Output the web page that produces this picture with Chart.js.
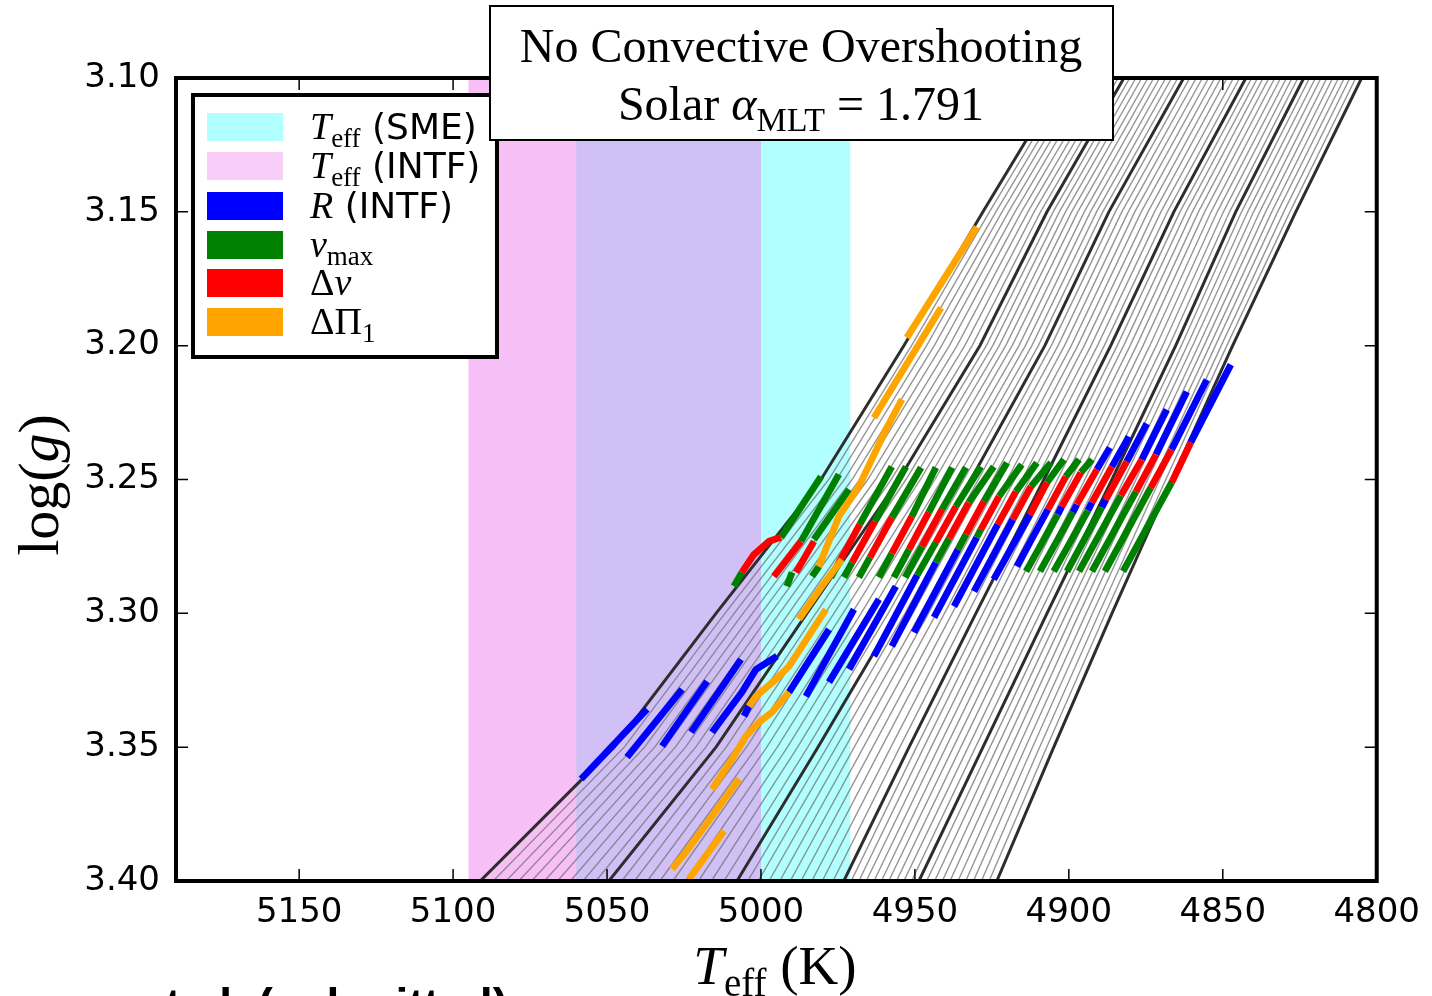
<!DOCTYPE html>
<html>
<head>
<meta charset="utf-8">
<script src="https://cdn.jsdelivr.net/npm/chart.js@4.4.0/dist/chart.umd.min.js"></script>
<style>
  html, body { margin: 0; padding: 0; background: #fff; }
  #wrap { width: 1432px; height: 996px; position: relative; overflow: hidden; }
</style>
</head>
<body>
<div id="wrap"><canvas id="chart" width="1432" height="996"></canvas></div>
<script>
// axis ticks
const xTicks = [5150, 5100, 5050, 5000, 4950, 4900, 4850, 4800];
const yTicks = [3.10, 3.15, 3.20, 3.25, 3.30, 3.35, 3.40];

// Teff bands
const smeRange = [5060, 4971];
const intfRange = [5095, 5000];

// evolutionary tracks: Teff of each track at these log(g) levels
const loggLevels = [3.10, 3.15, 3.20, 3.25, 3.30, 3.35, 3.40];
const teffAt310 = [4901.6,4899.7,4897.7,4895.8,4893.8,4891.9,4889.9,4887.9,4886.0,4884.0,4882.1,4880.2,4878.2,4876.3,4874.3,4872.4,4870.5,4868.5,4866.6,4864.6,4862.7,4860.7,4858.6,4856.6,4854.6,4852.6,4850.6,4848.6,4846.5,4844.5,4842.5,4840.6,4838.7,4836.9,4835.0,4833.1,4831.2,4829.3,4827.5,4825.6,4823.7,4821.8,4819.9,4818.1,4816.2,4814.3,4812.4,4810.5,4808.7,4806.8,4804.9];
const teffAt315 = [4927.9,4925.8,4923.7,4921.7,4919.6,4917.5,4915.4,4913.3,4911.3,4909.2,4907.1,4905.1,4903.1,4901.1,4899.1,4897.1,4895.0,4893.0,4891.0,4889.0,4887.0,4884.9,4882.8,4880.7,4878.6,4876.5,4874.3,4872.2,4870.1,4868.0,4865.9,4863.9,4861.9,4859.9,4857.9,4855.9,4853.8,4851.8,4849.8,4847.8,4845.8,4843.9,4841.9,4840.0,4838.0,4836.1,4834.1,4832.2,4830.2,4828.2,4826.3];
const teffAt320 = [4953.6,4951.1,4948.7,4946.2,4943.7,4941.3,4938.8,4936.3,4933.8,4931.4,4928.9,4926.8,4924.7,4922.6,4920.5,4918.4,4916.2,4914.1,4912.0,4909.9,4907.8,4905.7,4903.5,4901.4,4899.2,4897.1,4895.0,4892.8,4890.7,4888.5,4886.4,4884.3,4882.2,4880.1,4878.0,4875.9,4873.7,4871.6,4869.5,4867.4,4865.3,4863.5,4861.6,4859.8,4857.9,4856.1,4854.2,4852.4,4850.5,4848.7,4846.8];
const teffAt325 = [4980.5,4978.0,4975.4,4972.9,4970.4,4967.9,4965.3,4962.8,4960.3,4957.7,4955.2,4952.9,4950.5,4948.2,4945.8,4943.5,4941.2,4938.8,4936.5,4934.1,4931.8,4929.4,4927.1,4924.7,4922.3,4920.0,4917.6,4915.2,4912.8,4910.5,4908.1,4905.9,4903.7,4901.5,4899.3,4897.1,4894.8,4892.6,4890.4,4888.2,4886.0,4884.1,4882.1,4880.2,4878.2,4876.3,4874.4,4872.4,4870.5,4868.5,4866.6];
const teffAt330 = [5014.6,5011.7,5008.7,5005.8,5002.8,4999.9,4996.9,4994.0,4991.0,4988.1,4985.1,4982.2,4979.2,4976.3,4973.4,4970.5,4967.5,4964.6,4961.7,4958.7,4955.8,4953.2,4950.7,4948.1,4945.6,4943.0,4940.4,4937.9,4935.3,4932.8,4930.2,4927.9,4925.6,4923.3,4921.0,4918.7,4916.3,4914.0,4911.7,4909.4,4907.1,4905.0,4902.9,4900.8,4898.7,4896.6,4894.4,4892.3,4890.2,4888.1,4886.0];
const teffAt335 = [5047.7,5044.4,5041.1,5037.8,5034.5,5031.2,5027.8,5024.5,5021.2,5017.9,5014.6,5011.3,5008.0,5004.7,5001.4,4998.1,4994.7,4991.4,4988.1,4984.8,4981.5,4978.5,4975.6,4972.6,4969.7,4966.7,4963.7,4960.8,4957.8,4954.9,4951.9,4949.5,4947.1,4944.7,4942.3,4939.9,4937.5,4935.1,4932.7,4930.3,4927.9,4925.6,4923.3,4921.0,4918.7,4916.4,4914.1,4911.8,4909.5,4907.2,4904.9];
const teffAt340 = [5091.2,5087.0,5082.8,5078.7,5074.5,5070.3,5066.1,5061.9,5057.8,5053.6,5049.4,5045.2,5041.1,5036.9,5032.8,5028.6,5024.4,5020.3,5016.1,5012.0,5007.8,5004.3,5000.9,4997.4,4993.9,4990.5,4987.0,4983.5,4980.1,4976.6,4973.1,4970.7,4968.2,4965.8,4963.3,4960.9,4958.5,4956.0,4953.6,4951.1,4948.7,4946.2,4943.6,4941.1,4938.6,4936.0,4933.5,4931.0,4928.4,4925.9,4923.4];
const trackLevels = [teffAt310, teffAt315, teffAt320, teffAt325, teffAt330, teffAt335, teffAt340];

// constrained pieces of the tracks: [Teff, logg, Teff, logg, ...]
const radiusSegs = [
  [5037.0,3.3358, 5058.4,3.3619],
  [5025.6,3.3284, 5043.5,3.3537],
  [5017.5,3.3254, 5032.1,3.3496],
  [5006.5,3.3172, 5022.7,3.3444],
  [4994.8,3.3160, 5001.6,3.3209, 5006.2,3.3295, 5015.9,3.3444],
  [5003.9,3.3347, 5005.5,3.3384],
  [4977.9,3.3060, 4990.9,3.3295],
  [4969.8,3.2985, 4985.4,3.3310],
  [4961.7,3.2947, 4977.9,3.3257],
  [4956.2,3.2899, 4971.4,3.3209],
  [4949.3,3.2858, 4963.3,3.3160],
  [4943.2,3.2810, 4957.5,3.3123],
  [4936.0,3.2761, 4950.3,3.3071],
  [4929.9,3.2716, 4943.8,3.3015],
  [4923.1,3.2668, 4937.3,3.2974],
  [4918.2,3.2649, 4930.8,3.2918],
  [4912.6,3.2631, 4924.4,3.2873],
  [4906.8,3.2612, 4916.9,3.2825],
  [4902.3,3.2601, 4903.6,3.2631],
  [4897.4,3.2593, 4898.7,3.2623],
  [4892.5,3.2586, 4893.8,3.2616],
  [4888.0,3.2575, 4889.3,3.2604],
  [4886.7,3.2381, 4890.9,3.2463],
  [4880.5,3.2340, 4886.0,3.2452],
  [4874.7,3.2291, 4881.2,3.2433],
  [4868.2,3.2239, 4876.3,3.2425],
  [4861.7,3.2172, 4871.7,3.2407],
  [4855.2,3.2127, 4866.6,3.2388],
  [4847.4,3.2071, 4860.4,3.2362]
];
const numaxSegs = [
  [4980.5,3.2489, 4993.5,3.2716],
  [5006.2,3.2847, 5008.8,3.2899],
  [4974.7,3.2481, 4987.0,3.2731],
  [4971.4,3.2537, 4982.8,3.2724],
  [4989.9,3.2847, 4991.6,3.2899],
  [4981.2,3.2825, 4983.4,3.2862],
  [4957.5,3.2452, 4967.9,3.2668],
  [4952.9,3.2452, 4963.0,3.2657],
  [4948.0,3.2455, 4957.5,3.2642],
  [4943.2,3.2455, 4951.0,3.2638],
  [4937.9,3.2455, 4945.5,3.2623],
  [4933.4,3.2455, 4941.2,3.2612],
  [4928.6,3.2452, 4936.7,3.2601],
  [4924.4,3.2452, 4932.5,3.2586],
  [4920.1,3.2437, 4927.6,3.2582],
  [4915.3,3.2444, 4922.7,3.2563],
  [4910.4,3.2437, 4917.2,3.2545],
  [4905.8,3.2437, 4912.3,3.2526],
  [4901.6,3.2425, 4907.1,3.2511],
  [4896.7,3.2425, 4901.0,3.2489],
  [4892.5,3.2425, 4896.1,3.2474],
  [4975.0,3.2817, 4977.3,3.2866],
  [4970.4,3.2810, 4973.0,3.2866],
  [4964.6,3.2791, 4968.2,3.2866],
  [4957.5,3.2776, 4961.7,3.2866],
  [4951.9,3.2761, 4956.8,3.2866],
  [4947.7,3.2750, 4953.2,3.2866],
  [4943.2,3.2735, 4949.3,3.2858],
  [4938.9,3.2720, 4943.2,3.2810],
  [4933.4,3.2705, 4936.0,3.2761],
  [4928.6,3.2687, 4929.9,3.2716],
  [4903.6,3.2631, 4913.9,3.2843],
  [4898.7,3.2623, 4909.4,3.2843],
  [4893.8,3.2616, 4904.9,3.2843],
  [4889.3,3.2604, 4900.6,3.2843],
  [4883.1,3.2560, 4896.7,3.2843],
  [4878.2,3.2545, 4892.5,3.2843],
  [4873.4,3.2530, 4888.3,3.2843],
  [4866.6,3.2511, 4882.4,3.2843]
];
const dnuSegs = [
  [4993.5,3.2716, 4997.4,3.2731, 5002.3,3.2780, 5006.2,3.2847],
  [4987.0,3.2731, 4995.8,3.2862],
  [4982.8,3.2731, 4988.6,3.2847],
  [4967.9,3.2668, 4975.0,3.2817],
  [4963.0,3.2657, 4970.4,3.2810],
  [4957.5,3.2642, 4964.6,3.2791],
  [4951.0,3.2638, 4957.5,3.2776],
  [4945.5,3.2623, 4951.9,3.2761],
  [4941.2,3.2612, 4947.7,3.2750],
  [4936.7,3.2601, 4943.2,3.2735],
  [4932.5,3.2586, 4938.9,3.2720],
  [4927.6,3.2582, 4933.4,3.2705],
  [4922.7,3.2563, 4928.6,3.2687],
  [4917.2,3.2545, 4923.1,3.2668],
  [4912.3,3.2526, 4918.2,3.2649],
  [4907.1,3.2511, 4912.6,3.2631],
  [4901.0,3.2489, 4906.8,3.2612],
  [4896.1,3.2474, 4902.3,3.2601],
  [4890.9,3.2463, 4897.4,3.2593],
  [4886.0,3.2452, 4892.5,3.2586],
  [4881.2,3.2433, 4888.0,3.2575],
  [4876.3,3.2425, 4883.1,3.2560],
  [4871.7,3.2407, 4878.2,3.2545],
  [4866.6,3.2388, 4873.4,3.2530],
  [4860.4,3.2362, 4866.6,3.2511]
];
const dpiSegs = [
  [4929.9,3.1556, 4952.6,3.1970],
  [4941.5,3.1858, 4963.3,3.2269],
  [4954.2,3.2201, 4959.4,3.2313, 4968.2,3.2526, 4974.7,3.2638, 4981.2,3.2825],
  [4973.7,3.2799, 4980.2,3.2899, 4987.7,3.3022],
  [4978.9,3.2985, 4990.9,3.3198, 4995.1,3.3246, 5001.6,3.3310, 5003.9,3.3347],
  [4990.9,3.3295, 4996.4,3.3369, 5000.6,3.3407, 5004.9,3.3459, 5009.4,3.3545, 5015.9,3.3657],
  [5007.1,3.3619, 5024.3,3.3891, 5028.9,3.3955],
  [5012.0,3.3813, 5023.4,3.3993]
];

const legendRows = [
  { color: 'rgba(0,255,255,0.30)', parts: [['T','i'],['eff','sub'],[' (SME)','sans']] },
  { color: 'rgba(238,130,238,0.40)', parts: [['T','i'],['eff','sub'],[' (INTF)','sans']] },
  { color: '#0000ff', parts: [['R','i'],[' (INTF)','sans']] },
  { color: '#008000', parts: [['\u03bd','i'],['max','sub']] },
  { color: '#ff0000', parts: [['\u0394','r'],['\u03bd','i']] },
  { color: '#ffa500', parts: [['\u0394\u03a0','r'],['1','sub']] }
];
const footnote = 'et al. (submitted)';

function toPoints(flat) {
  const pts = [];
  for (let i = 0; i < flat.length; i += 2) pts.push({ x: flat[i], y: flat[i + 1] });
  return pts;
}

const datasets = [];
teffAt310.forEach((_, k) => {
  const dark = k % 10 === 0;
  datasets.push({
    data: loggLevels.map((g, i) => ({ x: trackLevels[i][k], y: g })),
    showLine: true, pointRadius: 0,
    borderColor: dark ? '#2e2e2e' : 'rgba(115,115,115,0.75)',
    borderWidth: dark ? 3 : 1.4,
    order: 10
  });
});
function addSegs(list, color, order) {
  list.forEach(s => datasets.push({
    data: toPoints(s), showLine: true, pointRadius: 0,
    borderColor: color, borderWidth: 6.8, borderCapStyle: 'butt', borderJoinStyle: 'round',
    order: order
  }));
}
addSegs(radiusSegs, '#0000ff', 4);
addSegs(numaxSegs, '#008000', 3);
addSegs(dnuSegs, '#ff0000', 2);
addSegs(dpiSegs, '#ffa500', 1);

function fontFor(kind, size) {
  if (kind === 'i') return 'italic ' + size + 'px "Liberation Serif"';
  if (kind === 'sub') return Math.round(size * 0.7) + 'px "Liberation Serif"';
  if (kind === 'sans') return Math.round(size * 0.95) + 'px "DejaVu Sans"';
  return size + 'px "Liberation Serif"';
}
function richWidth(ctx, parts, size) {
  let w = 0;
  parts.forEach(p => { ctx.font = fontFor(p[1], size); w += ctx.measureText(p[0]).width; });
  return w;
}
function drawRich(ctx, parts, x, y, size) {
  parts.forEach(p => {
    ctx.font = fontFor(p[1], size);
    const dy = p[1] === 'sub' ? size * 0.22 : 0;
    ctx.fillText(p[0], x, y + dy);
    x += ctx.measureText(p[0]).width;
  });
}

const decor = {
  id: 'decor',
  beforeDraw(chart) {
    const ctx = chart.ctx;
    ctx.save();
    ctx.fillStyle = '#fff';
    ctx.fillRect(0, 0, chart.width, chart.height);
    ctx.restore();
  },
  beforeDatasetsDraw(chart) {
    const { ctx, chartArea: a, scales: { x } } = chart;
    ctx.save();
    ctx.beginPath(); ctx.rect(a.left, a.top, a.right - a.left, a.bottom - a.top); ctx.clip();
    let x1 = x.getPixelForValue(smeRange[0]), x2 = x.getPixelForValue(smeRange[1]);
    ctx.fillStyle = 'rgba(0,255,255,0.30)';
    ctx.fillRect(x1, a.top, x2 - x1, a.bottom - a.top);
    x1 = x.getPixelForValue(intfRange[0]); x2 = x.getPixelForValue(intfRange[1]);
    ctx.fillStyle = 'rgba(238,130,238,0.5)';
    ctx.fillRect(x1, a.top, x2 - x1, a.bottom - a.top);
    ctx.restore();
  },
  afterDraw(chart) {
    const { ctx, chartArea: a, scales: { x, y } } = chart;
    ctx.save();
    // inward ticks
    ctx.strokeStyle = '#000'; ctx.lineWidth = 1.5;
    xTicks.forEach(v => {
      const px = x.getPixelForValue(v);
      ctx.beginPath(); ctx.moveTo(px, a.bottom); ctx.lineTo(px, a.bottom - 12);
      ctx.moveTo(px, a.top); ctx.lineTo(px, a.top + 12); ctx.stroke();
    });
    yTicks.forEach(v => {
      const py = y.getPixelForValue(v);
      ctx.beginPath(); ctx.moveTo(a.left, py); ctx.lineTo(a.left + 12, py);
      ctx.moveTo(a.right, py); ctx.lineTo(a.right - 12, py); ctx.stroke();
    });
    // frame
    ctx.lineWidth = 4;
    ctx.strokeRect(a.left, a.top, a.right - a.left, a.bottom - a.top);

    // legend
    ctx.fillStyle = '#fff';
    ctx.fillRect(193, 95, 304, 262);
    ctx.lineWidth = 4; ctx.strokeStyle = '#000';
    ctx.strokeRect(193, 95, 304, 262);
    const rowY = [127, 166, 206, 245, 283, 322];
    legendRows.forEach((r, i) => {
      ctx.fillStyle = r.color;
      ctx.fillRect(207, rowY[i] - 14, 76, 28);
      ctx.fillStyle = '#000';
      ctx.textBaseline = 'alphabetic';
      drawRich(ctx, r.parts, 310, rowY[i] + 12, 38);
    });

    // title box
    ctx.fillStyle = '#fff';
    ctx.fillRect(490, 6, 623, 134);
    ctx.lineWidth = 2;
    ctx.strokeRect(490, 6, 623, 134);
    ctx.fillStyle = '#000';
    ctx.font = '48px "Liberation Serif"';
    ctx.textAlign = 'center';
    ctx.fillText('No Convective Overshooting', 801, 62);
    ctx.textAlign = 'left';
    const t2 = [['Solar ','r'],['\u03b1','i'],['MLT','sub'],[' = 1.791','r']];
    const w2 = richWidth(ctx, t2, 48);
    drawRich(ctx, t2, 801 - w2 / 2, 120, 48);

    // axis titles
    const xt = [['T','i'],['eff','sub'],[' (K)','r']];
    const wx = richWidth(ctx, xt, 55);
    drawRich(ctx, xt, 775 - wx / 2, 984, 55);
    ctx.save();
    ctx.translate(58, 485);
    ctx.rotate(-Math.PI / 2);
    const yt = [['log(','r'],['g','i'],[')','r']];
    const wy = richWidth(ctx, yt, 58);
    drawRich(ctx, yt, -wy / 2, 0, 58);
    ctx.restore();

    // footnote, cut by the lower edge
    ctx.font = 'bold 46px "Liberation Sans"';
    ctx.fillText(footnote, 140, 1021);
    ctx.restore();
  }
};

new Chart(document.getElementById('chart').getContext('2d'), {
  type: 'scatter',
  data: { datasets: datasets },
  options: {
    responsive: false,
    animation: false,
    events: [],
    layout: { padding: { left: 0, top: 78, right: 52, bottom: 0 } },
    plugins: { legend: { display: false }, tooltip: { enabled: false } },
    scales: {
      x: {
        type: 'linear', reverse: true, min: 4800, max: 5190,
        afterBuildTicks: s => { s.ticks = xTicks.map(v => ({ value: v })); },
        afterFit: s => { s.height = 115; },
        grid: { display: false, drawTicks: false },
        border: { display: false },
        ticks: { color: '#000', padding: 12, maxRotation: 0, autoSkip: false,
                 font: { family: 'DejaVu Sans', size: 34 }, callback: v => String(v) }
      },
      y: {
        type: 'linear', reverse: true, min: 3.10, max: 3.40,
        afterBuildTicks: s => { s.ticks = yTicks.map(v => ({ value: v })); },
        afterFit: s => { s.width = 176; },
        grid: { display: false, drawTicks: false },
        border: { display: false },
        ticks: { color: '#000', padding: 16, autoSkip: false,
                 font: { family: 'DejaVu Sans', size: 34 }, callback: v => v.toFixed(2) }
      }
    }
  },
  plugins: [decor]
});
</script>
</body>
</html>
